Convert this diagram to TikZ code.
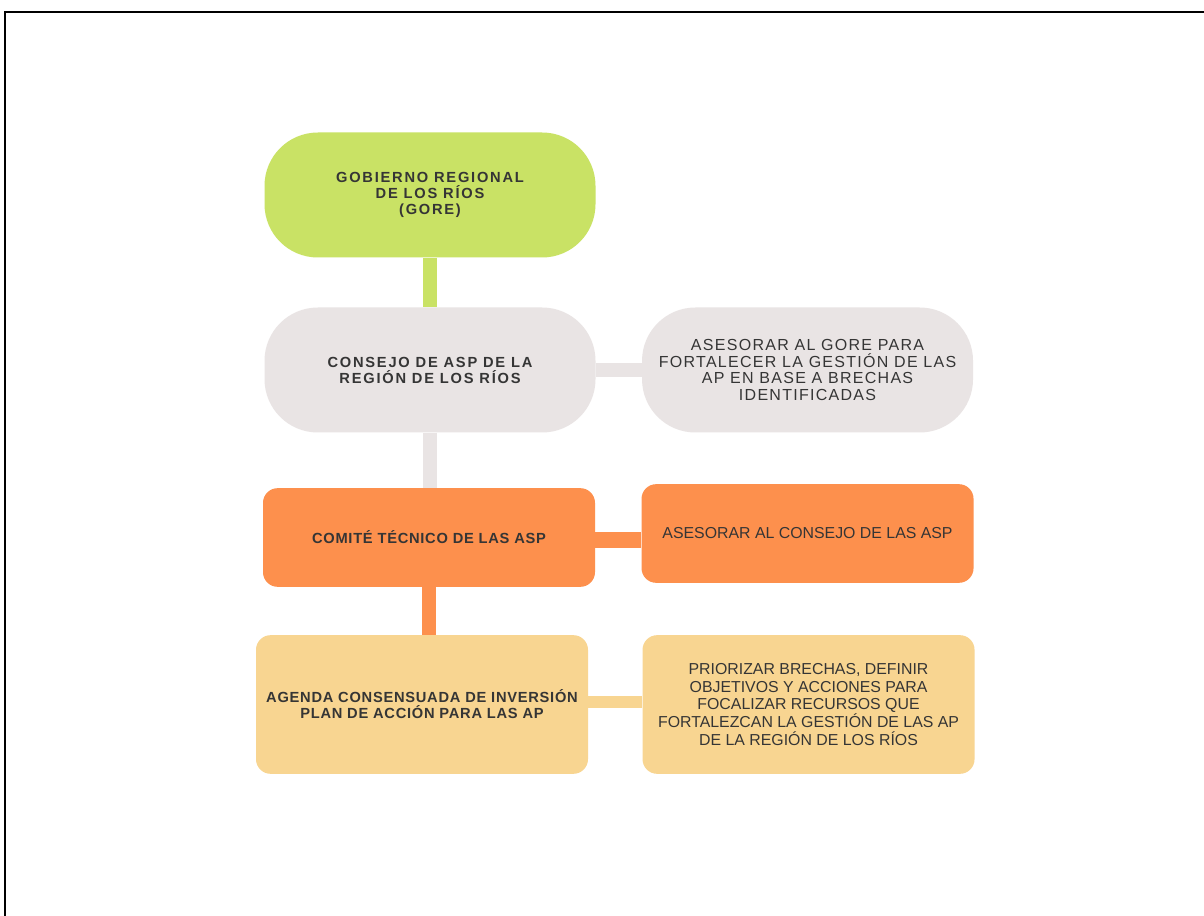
\documentclass[tikz,border=0pt]{standalone}
\usepackage{fontspec}
\setmainfont{Liberation Sans}
\newfontfamily\trackedfont[LetterSpace=8]{Liberation Sans}
\newfontfamily\boldtracked[LetterSpace=5]{Liberation Sans}
\newfontfamily\boldwide[LetterSpace=12]{Liberation Sans}
\usetikzlibrary{positioning}

\definecolor{goregreen}{HTML}{C9E265}
\definecolor{consejogray}{HTML}{E9E4E4}
\definecolor{comiteorange}{HTML}{FD904D}
\definecolor{agendasand}{HTML}{F8D591}
\definecolor{inktext}{HTML}{353535}

\begin{document}
\begin{tikzpicture}[x=0.75pt,y=-0.75pt,
    pill/.style={inner sep=0pt, minimum width=248.25pt, minimum height=93.75pt,
        rounded corners=40pt, align=center, text=inktext},
    card/.style={inner sep=0pt, minimum width=249pt, rounded corners=11pt,
        align=center, text=inktext},
    title/.style={font=\boldtracked\bfseries\fontsize{11}{12}\selectfont},
    widetitle/.style={font=\boldwide\bfseries\fontsize{11}{12}\selectfont},
    task/.style={font=\fontsize{11.9}{13.4}\selectfont},
    link/.style={line width=#1, line cap=butt}]
    % page frame and size
    \useasboundingbox (0,0) rectangle (1204,916);
    \fill[white] (0,0) rectangle (1204,916);
    \draw[line width=2pt] (1204,12) -- (5,12) -- (5,916);

    % left column
    \node[pill, fill=goregreen, widetitle] (gore) at (430,195)
        {GOBIERNO REGIONAL\\DE LOS RÍOS\\(GORE)};
    \node[pill, fill=consejogray, widetitle] (consejo) at (430,370)
        {CONSEJO DE ASP DE LA\\REGIÓN DE LOS RÍOS};
    \node[card, fill=comiteorange, minimum height=74pt, title] (comite) at (429,537.5)
        {COMITÉ TÉCNICO DE LAS ASP};
    \node[card, fill=agendasand, minimum height=104pt, title] (agenda) at (422,704.5)
        {AGENDA CONSENSUADA DE INVERSIÓN\\PLAN DE ACCIÓN PARA LAS AP};

    % right column
    \node[pill, fill=consejogray, right=34.5pt of consejo,
        font=\trackedfont\fontsize{12}{12.5}\selectfont] (asesorGore)
        {ASESORAR AL GORE PARA\\FORTALECER LA GESTIÓN DE LAS\\AP EN BASE A BRECHAS\\IDENTIFICADAS};
    \node[card, fill=comiteorange, minimum height=74pt, right=34.5pt of comite,
        yshift=3pt, task] (asesorConsejo)
        {ASESORAR AL CONSEJO DE LAS ASP};
    \node[card, fill=agendasand, minimum height=104pt, right=40.5pt of agenda,
        task] (priorizar)
        {PRIORIZAR BRECHAS, DEFINIR\\OBJETIVOS Y ACCIONES PARA\\FOCALIZAR RECURSOS QUE\\FORTALEZCAN LA GESTIÓN DE LAS AP\\DE LA REGIÓN DE LOS RÍOS};

    % connectors
    \draw[link=10.5pt, goregreen] (gore.south) -- (consejo.north);
    \draw[link=10.5pt, consejogray] (consejo.south) -- (consejo.south |- comite.north);
    \draw[link=10.5pt, comiteorange] (comite.south) -- (comite.south |- agenda.north);
    \draw[link=10pt, consejogray] (consejo.east) -- (asesorGore.west);
    \draw[link=12pt, comiteorange] ([yshift=-2pt]comite.east) -- ([yshift=-2pt]comite.east -| asesorConsejo.west);
    \draw[link=9pt, agendasand] ([yshift=2pt]agenda.east) -- ([yshift=2pt]agenda.east -| priorizar.west);
\end{tikzpicture}
\end{document}
